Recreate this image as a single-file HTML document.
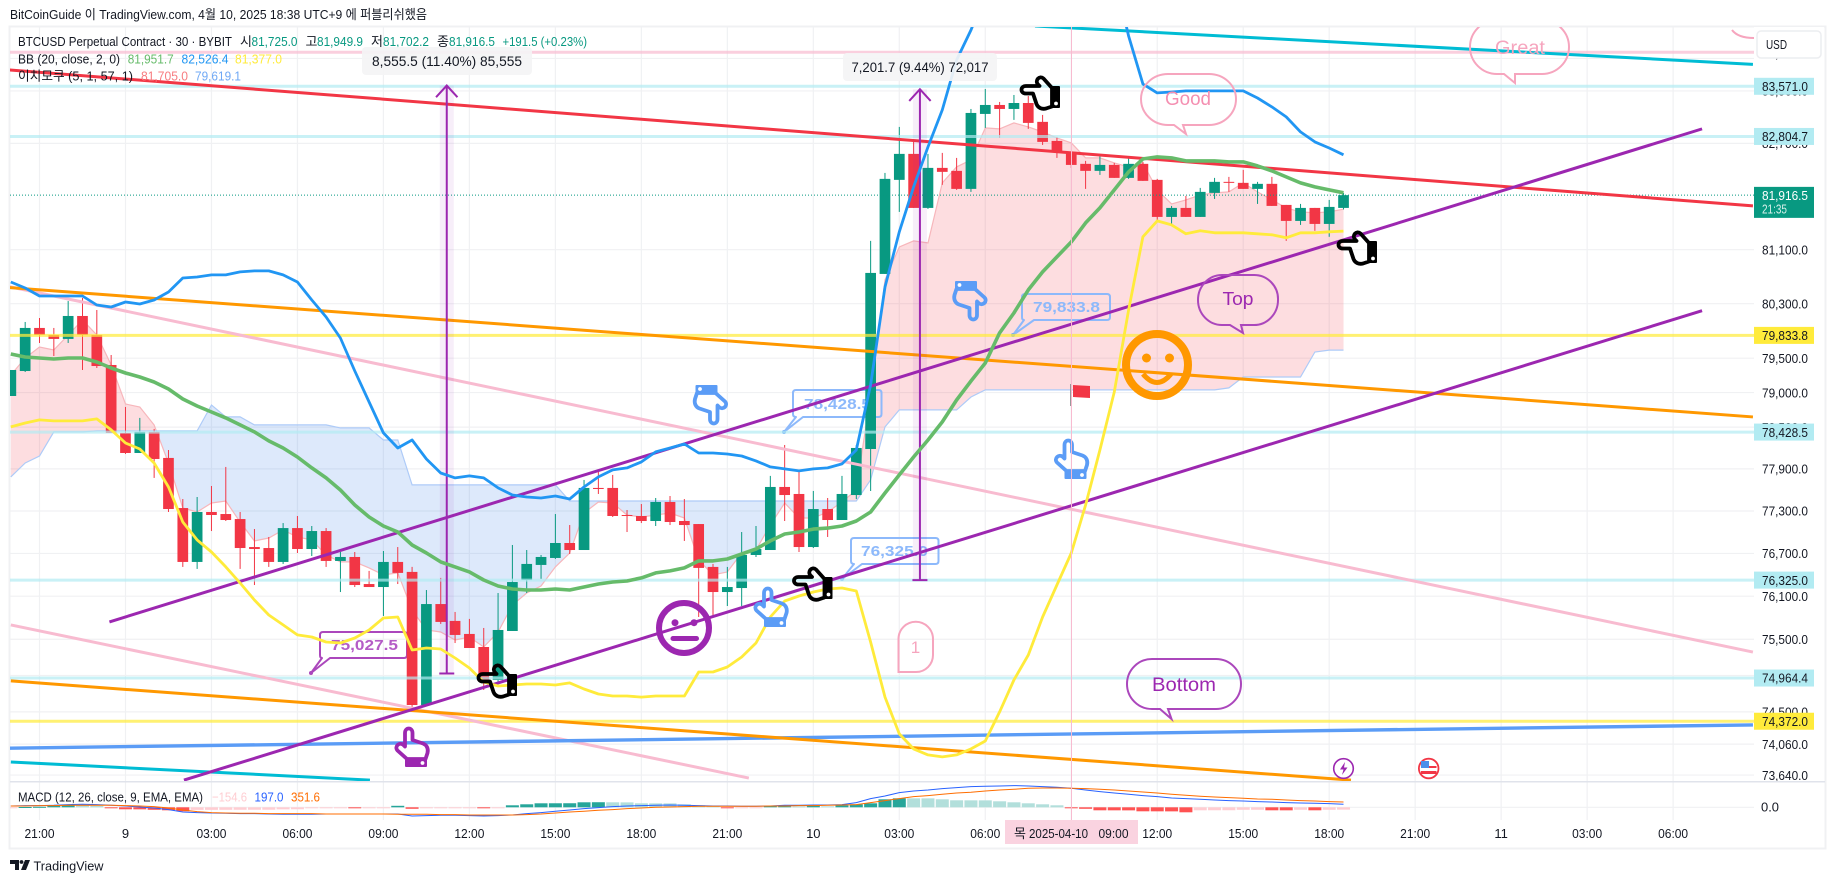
<!DOCTYPE html>
<html lang="ko">
<head>
<meta charset="utf-8">
<title>BTCUSD Perpetual Contract chart</title>
<style>
html,body{margin:0;padding:0;background:#fff;width:1835px;height:883px;overflow:hidden}
svg{position:absolute;left:0;top:0;display:block}
text{font-family:"Liberation Sans","Noto Sans CJK KR",sans-serif;font-size:13px;fill:#131722}
.val{font-size:13px}
</style>
</head>
<body>
<svg id="chart" width="1835" height="883" viewBox="0 0 1835 883" xmlns="http://www.w3.org/2000/svg">
<defs>
  <clipPath id="plotClip"><rect x="10" y="27" width="1744" height="754"/></clipPath>
  <clipPath id="macdClip"><rect x="10" y="783" width="1744" height="37"/></clipPath>
  <g id="hand">
    <path d="M13 31 L3.500 22.500 C0 18.500 5.500 13.500 9.500 17 L11 18.500 L11 5 C11 -1 18.500 -1 18.500 5 L18.500 12 L29 15.500 C33 17 34.500 21 33.500 25 L31.500 31 Z" fill="none" stroke="currentColor" stroke-width="3.800" stroke-linejoin="round"/>
    <rect x="11" y="30.500" width="22" height="8.500" rx="1" fill="currentColor"/>
    <circle cx="28.500" cy="35" r="1.900" fill="#fff"/>
  </g>
</defs>

<text x="10" y="19" textLength="417" lengthAdjust="spacingAndGlyphs">BitCoinGuide 이 TradingView.com, 4월 10, 2025 18:38 UTC+9 에 퍼블리쉬했음</text>
<rect x="9.500" y="26.500" width="1816" height="822" fill="#fff" stroke="#F0F1F3" stroke-width="2"/>

<g id="gridLayer"></g>
<g clip-path="url(#plotClip)">
  <g id="cloudLayer"></g>

  <g fill="none" stroke-width="2" stroke-linejoin="round">
    <path stroke="#AB47BC" d="M323 632 H404 Q407 632 407 635 V655 Q407 658 404 658 H330 L311 673 L322 658 Q320 658 320 655 V635 Q320 632 323 632 Z"/>
    <circle cx="311" cy="673" r="2" fill="#AB47BC"/>
    <text x="331" y="650" textLength="67" lengthAdjust="spacingAndGlyphs" style="font-size:15px;font-weight:bold;fill:#B45CC6;stroke:none">75,027.5</text>
    <path stroke="#8DB9FB" d="M796 390 H878.500 Q881.500 390 881.500 393 V414 Q881.500 417 878.500 417 H803 L784 432 L796 417 Q793 417 793 414 V393 Q793 390 796 390 Z"/>
    <circle cx="784" cy="432" r="2" fill="#6EA6FB"/>
    <text x="804" y="409" textLength="67" lengthAdjust="spacingAndGlyphs" style="font-size:15px;font-weight:bold;fill:#8DB9FB;stroke:none">78,428.5</text>
    <path stroke="#8DB9FB" d="M1025 294 H1107 Q1110 294 1110 297 V317 Q1110 320 1107 320 H1034 L1013 335 L1024 320 Q1022 320 1022 317 V297 Q1022 294 1025 294 Z"/>
    <circle cx="1013" cy="335" r="2" fill="#6EA6FB"/>
    <text x="1033" y="312" textLength="67" lengthAdjust="spacingAndGlyphs" style="font-size:15px;font-weight:bold;fill:#8DB9FB;stroke:none">79,833.8</text>
    <path stroke="#8DB9FB" d="M854 538 H935.500 Q938.500 538 938.500 541 V561 Q938.500 564 935.500 564 H862 L842 579 L854 564 Q851 564 851 561 V541 Q851 538 854 538 Z"/>
    <circle cx="842" cy="579" r="2" fill="#6EA6FB"/>
    <text x="861" y="556" textLength="67" lengthAdjust="spacingAndGlyphs" style="font-size:15px;font-weight:bold;fill:#8DB9FB;stroke:none">76,325.0</text>
  </g>

  <g id="candleLayer"></g>
  <g id="levelLayer"></g>
  <g id="trendLayer"></g>
  <g id="measureLayer"></g>
  <g id="bbLayer"></g>

  <g fill="none" stroke-width="2">
    <path stroke="#F6A5BE" d="M1497 20 H1542 A27 27 0 0 1 1569 47 A27 27 0 0 1 1542 74 H1515 L1515 83 L1504 74 H1497 A27 27 0 0 1 1470 47 A27 27 0 0 1 1497 20 Z"/>
    <text x="1520" y="54" text-anchor="middle" textLength="50" lengthAdjust="spacingAndGlyphs" style="font-size:19px;fill:#F6A5BE;stroke:none">Great</text>
    <path stroke="#F6A5BE" d="M1732 30 Q1738 38 1754 38"/>
    <path stroke="#F6A5BE" d="M1168 74 H1209 A27 25 0 0 1 1236 99 A27 26 0 0 1 1209 125 H1183 L1186 134 L1174 125 H1168 A27 26 0 0 1 1141 99 A27 25 0 0 1 1168 74 Z"/>
    <text x="1188" y="105" text-anchor="middle" textLength="46" lengthAdjust="spacingAndGlyphs" style="font-size:19px;fill:#F48FB1;stroke:none">Good</text>
    <path stroke="#AB47BC" d="M1222 275 H1254 A24 24 0 0 1 1278 300 A24 25 0 0 1 1254 325 H1241 L1243 333 L1230 325 H1222 A24 25 0 0 1 1198 300 A24 25 0 0 1 1222 275 Z"/>
    <text x="1238" y="305" text-anchor="middle" textLength="31" lengthAdjust="spacingAndGlyphs" style="font-size:18px;fill:#9C27B0;stroke:none">Top</text>
    <path stroke="#AB47BC" d="M1152 659 H1216 A25 25 0 0 1 1241 684 A25 25 0 0 1 1216 709 H1168 L1171.500 719 L1160 709 H1152 A25 25 0 0 1 1127 684 A25 25 0 0 1 1152 659 Z"/>
    <text x="1184" y="691" text-anchor="middle" textLength="64" lengthAdjust="spacingAndGlyphs" style="font-size:19px;fill:#9C27B0;stroke:none">Bottom</text>
    <path stroke="#F6A5BE" d="M898.500 672 V639 A17 17 0 0 1 933 639 V655 A17 17 0 0 1 916 672 Z"/>
    <text x="915.500" y="653" text-anchor="middle" style="font-size:17px;fill:#F6A5BE;stroke:none">1</text>
  </g>

  <g>
    <rect x="1070" y="384" width="2" height="22" fill="#999"/>
    <path d="M1073 385 L1090 386 V398 L1073 397 Z" fill="#F23645"/>
  </g>

  <g fill="none" stroke="#FF9800">
    <circle cx="1157" cy="365" r="31" stroke-width="8"/>
    <circle cx="1146.500" cy="358" r="4.500" fill="#FF9800" stroke="none"/>
    <circle cx="1169.500" cy="358" r="4.500" fill="#FF9800" stroke="none"/>
    <path d="M1143 374 Q1157 391 1171 374" stroke-width="5"/>
  </g>
  <g fill="none" stroke="#9C27B0">
    <circle cx="684" cy="628" r="25" stroke-width="6"/>
    <circle cx="675" cy="622.700" r="3.500" fill="#9C27B0" stroke="none"/>
    <circle cx="694" cy="622.700" r="3.500" fill="#9C27B0" stroke="none"/>
    <path d="M673 638.500 H696.500" stroke-width="5" stroke-linecap="round"/>
  </g>

  <g>
    <use href="#hand" color="#000" transform="translate(1041 92) rotate(-90) scale(-1 1) translate(-17 -20)"/>
    <use href="#hand" color="#000" transform="translate(1358 247) rotate(-90) scale(-1 1) translate(-17 -20)"/>
    <use href="#hand" color="#000" transform="translate(813.500 583) rotate(-90) scale(-1 1) translate(-17 -20)"/>
    <use href="#hand" color="#000" transform="translate(498 680) rotate(-90) scale(-1 1) translate(-17 -20)"/>
    <use href="#hand" color="#5B9CF6" transform="translate(1070.500 460) translate(-17 -20)"/>
    <use href="#hand" color="#5B9CF6" transform="translate(770 608) translate(-17 -20)"/>
    <use href="#hand" color="#9C27B0" transform="translate(411 748) translate(-17 -20)"/>
    <use href="#hand" color="#5B9CF6" transform="translate(971 300) rotate(180) translate(-17 -20)"/>
    <use href="#hand" color="#5B9CF6" transform="translate(711.500 404) rotate(180) translate(-17 -20)"/>
  </g>

  <g>
    <circle cx="1343.500" cy="768.500" r="9.800" fill="#fff" stroke="#9C27B0" stroke-width="1.600"/>
    <path d="M1345 762 L1340 769.500 H1343.500 L1342 775 L1347.500 767.500 H1344 Z" fill="#9C27B0"/>
  </g>
  <g>
    <circle cx="1428.700" cy="768.500" r="9.800" fill="#fff" stroke="#F23645" stroke-width="1.800"/>
    <rect x="1421" y="766" width="15.500" height="2" fill="#F23645"/>
    <rect x="1421" y="771" width="15.500" height="3" fill="#F23645"/>
    <rect x="1421" y="761" width="8" height="7" fill="#4C8FEA"/>
  </g>
</g>

<g id="axisLayer"></g>

<g>
  <text x="18" y="46" textLength="214" lengthAdjust="spacingAndGlyphs">BTCUSD Perpetual Contract · 30 · BYBIT</text>
  <text x="240" y="46">시</text>
  <text x="251.500" y="46" textLength="46" lengthAdjust="spacingAndGlyphs" style="fill:#089981">81,725.0</text>
  <text x="305.500" y="46">고</text>
  <text x="317" y="46" textLength="46" lengthAdjust="spacingAndGlyphs" style="fill:#089981">81,949.9</text>
  <text x="371" y="46">저</text>
  <text x="383" y="46" textLength="46" lengthAdjust="spacingAndGlyphs" style="fill:#089981">81,702.2</text>
  <text x="437" y="46">종</text>
  <text x="449" y="46" textLength="46" lengthAdjust="spacingAndGlyphs" style="fill:#089981">81,916.5</text>
  <text x="502.500" y="46" textLength="84.500" lengthAdjust="spacingAndGlyphs" style="fill:#089981">+191.5 (+0.23%)</text>
  <text x="18" y="63.500" textLength="102" lengthAdjust="spacingAndGlyphs">BB (20, close, 2, 0)</text>
  <text x="127.700" y="63.500" textLength="46" lengthAdjust="spacingAndGlyphs" style="fill:#66BB6A">81,951.7</text>
  <text x="181.500" y="63.500" textLength="47" lengthAdjust="spacingAndGlyphs" style="fill:#2196F3">82,526.4</text>
  <text x="235" y="63.500" textLength="47" lengthAdjust="spacingAndGlyphs" style="fill:#FFEB3B">81,377.0</text>
  <text x="18" y="80.500" textLength="115" lengthAdjust="spacingAndGlyphs">이치모쿠 (5, 1, 57, 1)</text>
  <text x="141" y="80.500" textLength="47" lengthAdjust="spacingAndGlyphs" style="fill:#F77C80">81,705.0</text>
  <text x="195" y="80.500" textLength="46" lengthAdjust="spacingAndGlyphs" style="fill:#6FA8F5">79,619.1</text>
</g>

<g>
  <rect x="362" y="47" width="170" height="28" rx="4" fill="#F4F4F5" fill-opacity="0.92"/>
  <text x="447" y="66" text-anchor="middle" textLength="150" lengthAdjust="spacingAndGlyphs" style="font-size:14px">8,555.5 (11.40%) 85,555</text>
  <rect x="843" y="53" width="154" height="28" rx="4" fill="#F4F4F5" fill-opacity="0.92"/>
  <text x="920" y="72" text-anchor="middle" textLength="137" lengthAdjust="spacingAndGlyphs" style="font-size:14px">7,201.7 (9.44%) 72,017</text>
</g>

<rect x="1757" y="31" width="64" height="27" rx="4" fill="#fff" stroke="#ECEDF0" stroke-width="1.500"/>
<text x="1766" y="49" textLength="21" lengthAdjust="spacingAndGlyphs">USD</text>

<rect x="10" y="781" width="1815" height="1.500" fill="#E0E3EB"/>
<g id="macdLayer" clip-path="url(#macdClip)"></g>
<g>
  <text x="18" y="801.500" textLength="185" lengthAdjust="spacingAndGlyphs">MACD (12, 26, close, 9, EMA, EMA)</text>
  <text x="212" y="801.500" textLength="35" lengthAdjust="spacingAndGlyphs" style="fill:#FFCDD2">−154.6</text>
  <text x="254.500" y="801.500" textLength="29" lengthAdjust="spacingAndGlyphs" style="fill:#2962FF">197.0</text>
  <text x="291" y="801.500" textLength="29" lengthAdjust="spacingAndGlyphs" style="fill:#FF6D00">351.6</text>
</g>
<text x="1761" y="811.700" textLength="18" lengthAdjust="spacingAndGlyphs">0.0</text>

<g id="timeLayer"></g>
<line x1="1071.500" x2="1071.500" y1="27" y2="820" stroke="#F8BBD0" stroke-width="1"/>
<rect x="1005" y="820" width="133" height="24" fill="#FAD1DE" fill-opacity="0.95"/>
<text x="1014" y="838">목</text>
<text x="1029" y="838" textLength="59" lengthAdjust="spacingAndGlyphs">2025-04-10</text>
<text x="1098.500" y="838" textLength="30" lengthAdjust="spacingAndGlyphs">09:00</text>

<g>
  <path d="M10 860 H19 V870 H15 V864 H10 Z M21 870 L25 860 H30 L26 870 Z" fill="#131722"/>
  <circle cx="21.500" cy="862" r="1.900" fill="#131722"/>
  <text x="33.500" y="870.500" textLength="70" lengthAdjust="spacingAndGlyphs">TradingView</text>
</g>
</svg>

<script>
// ---------- candle data (bar 0 = 20:00, 30-minute bars) ----------
const opens=[78950,79313,79943,79840,79782,80119,79840,79401,78416,78128,78431,78057,77342,76580,77286,77257,77186,76790,76776,76580,77058,76762,77016,76594,76650,76270,76228,76580,76440,74594,75990,75755,75574,75393,74938,75615,76326,76538,76636,76847,76748,77628,77628,77243,77229,77158,77428,77158,77115,76510,76158,76214,76678,76748,77642,77542,76790,77328,77172,77527,78185,80740,82147,82540,81725,82328,82283,82011,83148,83285,83224,83315,83027,82737,82570,82389,82283,82373,82177,82389,82147,81590,81725,81590,81951,82117,82102,82011,82087,81770,81530,81725,81485,81725];
const highs=[79328,80031,80089,79943,80339,80384,80207,79547,78791,78633,78474,78171,77470,77499,77656,77928,77286,77044,76932,77129,77229,77087,77058,76720,76720,76454,76734,76790,76510,76186,76356,75880,75783,75657,76144,76819,76748,76678,77257,77101,77742,77857,77814,77314,77399,77485,77513,77470,77115,76552,76510,77002,77087,77800,78243,77857,77585,77485,77800,78243,81232,82252,82950,82737,82540,82555,82479,83224,83530,83331,83438,83422,83133,82798,82570,82434,82509,82404,82479,82419,82162,81755,81905,82026,82177,82192,82298,82117,82192,81770,81785,81725,81845,81949.9];
const lows=[78950,79299,79723,79532,79723,79328,79357,78416,78114,78128,77771,77286,76510,76482,77016,77158,76482,76256,76510,76552,76706,76664,76510,76158,76228,76228,75824,76270,74540,74594,75713,75448,75379,74800,74897,75615,76144,76340,76622,76692,76748,77542,77215,77002,77129,77087,77101,76876,75810,75810,75963,75963,76650,76748,77158,76720,76776,76932,77172,77470,77585,80740,81665,81725,81710,82072,81996,81966,82935,82782,83057,82920,82676,82479,82328,82011,82222,82177,82162,82132,81545,81470,81590,81590,81860,81966,82011,81785,81755,81232,81470,81382,81292,81702.2];
const closes=[79328,79943,79840,79782,80119,79840,79386,78416,78128,78431,78042,77328,76580,77286,77243,77172,76776,76762,76580,77058,76762,77016,76594,76650,76256,76228,76580,76426,74594,75990,75741,75560,75379,74938,75629,76298,76552,76650,76847,76748,77628,77613,77229,77229,77158,77428,77144,77101,76496,76158,76228,76678,76762,77642,77527,76790,77328,77172,77542,78200,80755,82162,82540,81725,82328,82268,82011,83163,83285,83224,83315,83011,82722,82570,82373,82283,82373,82177,82389,82132,81590,81725,81590,81966,82117,82102,82011,82087,81755,81530,81725,81485,81740,81916.5];

// ---------- Bollinger Bands ----------
const bbUpper=[80620,80531,80413,80413,80413,80413,80280,80251,80325,80295,80354,80473,80680,80695,80725,80725,80770,80785,80785,80725,80620,80354,80104,79796,79313,78863,78416,78200,78315,78042,77842,77771,77800,77771,77628,77527,77499,77485,77513,77470,77642,77785,77885,77914,78000,78143,78200,78257,78128,78128,78114,78085,78014,77928,77900,77871,77900,77914,77971,78171,79109,80547,81367,82041,82646,83209,83976,84440,85000,85200,85350,85500,85600,85650,85650,85600,85500,85300,84347,83607,83469,83484,83500,83500,83500,83500,83500,83392,83255,83103,82874,82722,82630,82526.4];
const bbBasis=[79562,79518,79503,79489,79503,79503,79445,79357,79284,79226,79153,79051,78906,78805,78719,78633,78532,78431,78301,78200,78071,77914,77771,77599,77385,77215,77087,77002,76819,76706,76580,76510,76440,76326,76242,76200,76186,76186,76200,76186,76228,76270,76298,76312,76356,76426,76454,76496,76594,76594,76622,76692,76762,76876,76974,77002,77044,77058,77087,77158,77286,77556,77814,78071,78315,78575,78892,79168,79430,79870,80163,80503,80770,80993,81217,81500,81725,81996,82268,82464,82494,82479,82434,82434,82434,82419,82419,82358,82283,82192,82102,82041,81996,81951.7];
const bbLower=[78503,78560,78604,78590,78590,78590,78618,78460,78272,78185,77985,77642,77144,76890,76720,76510,76284,76046,75838,75699,75560,75532,75462,75448,75518,75629,75796,75810,75351,75379,75365,75241,75103,74910,74855,74869,74883,74883,74869,74897,74814,74745,74717,74717,74703,74717,74717,74717,75048,75048,75117,75254,75448,75810,76032,76102,76158,76200,76214,76172,75462,74703,74199,73995,73913,73886,73913,73995,74103,74499,74938,75282,75810,76256,76706,77385,78171,79009,80207,81292,81530,81470,81337,81382,81352,81352,81352,81337,81322,81277,81352,81352,81367,81377];

// ---------- Ichimoku cloud ----------
const leadA=[79255,79503,79664,79620,79840,80060,79840,79401,78834,78791,78532,77985,77342,77286,77413,77442,77144,76876,76918,77030,76932,76890,76678,76580,76580,76496,76398,76426,75907,75629,75601,75490,75532,75393,75601,75976,76144,76242,76510,76706,77272,77428,77413,77243,77215,77243,77272,77201,76608,76398,76440,76706,76748,77101,77413,77201,77201,77286,77428,77599,78965,80652,81142,81232,81202,82102,82343,82449,82935,82920,83011,82950,82874,82782,82706,82479,82479,82404,82343,82404,81996,81785,81845,81920,81951,81966,82102,81966,81845,81725,81665,81650,81665,81705];
const leadB=[77785,77985,78085,78431,78431,78431,78445,78445,78445,78445,78445,78445,78445,78445,78820,78647,78647,78532,78532,78532,78532,78532,78532,78489,78489,78489,78315,78315,77671,77671,77671,77671,77671,77671,77671,77671,77671,77671,77671,77442,77442,77442,77442,77442,77442,77442,77442,77442,77442,77442,77442,77442,77442,77442,77442,77442,77442,77442,77442,77442,77742,78503,78748,78748,78748,78748,78748,78936,79038,79038,79038,79038,79038,79038,79038,79038,79038,79038,79038,79038,79038,79038,79038,79038,79038,79067,79226,79226,79226,79226,79226,79591,79619,79619.1];

// ---------- MACD ----------
const macdLine=[88,110,110,132,176,198,176,132,88,22,-44,-154,-308,-352,-374,-396,-418,-418,-440,-462,-462,-462,-440,-440,-440,-440,-440,-440,-572,-550,-528,-528,-550,-572,-550,-506,-418,-352,-264,-176,-88,-22,44,88,110,132,154,132,110,88,88,66,66,88,132,132,154,154,176,308,572,748,968,1078,1144,1232,1298,1364,1386,1408,1430,1408,1364,1320,1254,1144,1034,946,858,770,704,616,572,528,484,440,418,374,352,308,286,264,242,197];
const macdSignal=[88,88,110,110,132,132,132,132,110,88,44,-44,-176,-286,-352,-374,-396,-396,-418,-418,-418,-418,-440,-440,-440,-440,-440,-462,-462,-462,-484,-484,-506,-506,-506,-506,-484,-440,-374,-308,-264,-198,-154,-88,-44,0,22,44,66,66,66,66,66,88,88,110,110,132,154,176,308,440,572,704,770,858,946,990,1078,1144,1188,1254,1276,1276,1254,1232,1188,1144,1078,1012,946,858,792,726,682,638,594,550,528,484,440,418,374,351.6];
const macdHist=[-46,20,33,132,135,130,99,-46,-132,-135,-165,-198,-264,-170,-168,-166,-164,-162,-160,-135,-130,-46,-44,-42,-60,-33,-30,99,-99,-33,-32,-31,-30,-46,-33,132,198,264,266,268,330,335,330,325,264,262,260,198,132,99,-66,-46,-44,66,68,60,132,66,132,198,264,528,594,592,590,528,462,460,458,396,330,264,198,132,-33,-99,-198,-200,-202,-264,-266,-268,-330,-198,-196,-194,-165,-163,-198,-200,-165,-198,-165,-154.6];

// ---------- horizontal levels (prices) ----------
const pinkLevel=[84095];
const cyanLevels=[83571,82804.7,78428.5,76325,74964.4];
const yellowLevels=[79833.8,74372];

// ---------- trend lines: [bar, price, bar, price] ----------
const redTrend=[-0.13,83822,121.57,81755];
const cyanTrendUpper=[71.47,84502,121.57,83909];
const cyanTrendLower=[0,73818,25.06,73572];
const purpleTrendUpper=[6.88,75741,118.02,82920];
const purpleTrendLower=[12.08,73572,118.02,80197];
const orangeTrendUpper=[-0.13,80538,121.57,78647];
const orangeTrendLower=[0,74925,93.52,73572];
const pinkTrendUpper=[-0.13,80552,121.57,75323];
const pinkTrendLower=[0,75699,51.5,73600];
const blueTrend=[-0.13,74005,121.57,74322];

// ---------- price ranges: [bar, fromPrice, toPrice] ----------
const rangeA=[30.42,75027.5,83583];
const rangeB=[63.44,76325,83526];

// ---------- axis labels ----------
const priceTicks=[84000,83500,82700,81100,80300,79500,79000,78500,77900,77300,76700,76100,75500,75000,74500,74060,73640];
const priceTickLabels=["84,000.0","83,500.0","82,700.0","81,100.0","80,300.0","79,500.0","79,000.0","78,500.0","77,900.0","77,300.0","76,700.0","76,100.0","75,500.0","75,000.0","74,500.0","74,060.0","73,640.0"];
const timeTickBars=[2,8,14,20,26,32,38,44,50,56,62,68,74,80,86,92,98,104,110,116];
const timeTickLabels=["21:00","9","03:00","06:00","09:00","12:00","15:00","18:00","21:00","10","03:00","06:00","09:00","12:00","15:00","18:00","21:00","11","03:00","06:00"];
const taggedPrices=[83571,82804.7,78428.5,76325,74964.4];
const taggedYellow=[79833.8,74372];
const lastPrice=81916.5;
const lastPriceCountdown="21:35";

// ---------- axis functions ----------
const NS='http://www.w3.org/2000/svg';
const xBar=i=>39.5+14.33*(i-2);
const yPrice=p=>86.3-Math.log(p/83571)*5444.6;
const macdZero=807.3;
const yMacd=v=>macdZero-v/66;
const fmt=p=>p.toLocaleString('en-US',{minimumFractionDigits:1,maximumFractionDigits:1});

function el(tag,attrs,parent){
  const e=document.createElementNS(NS,tag);
  for(const k in attrs)e.setAttribute(k,attrs[k]);
  parent.appendChild(e);
  return e;
}
const layer=id=>document.getElementById(id);

// ---------- grid ----------
const plotL=10,plotR=1754,plotT=27,plotB=781;
priceTicks.forEach(p=>{
  const g=el('line',{x1:plotL,x2:plotR,y1:yPrice(p),y2:yPrice(p),stroke:'#F0F1F3','stroke-width':1.2},layer('gridLayer'));
  
  
});
timeTickBars.forEach(b=>{
  const g=el('line',{x1:xBar(b),x2:xBar(b),y1:plotT,y2:820,stroke:'#F0F1F3','stroke-width':1.2},layer('gridLayer'));
  
  
});
const zeroGrid=el('line',{x1:plotL,x2:plotR,y1:macdZero,y2:macdZero,stroke:'#F0F1F3','stroke-width':1.2},layer('gridLayer'));



// ---------- cloud ----------
let redD='',blueD='';
for(let i=0;i<leadA.length-1;i++){
  const x0=xBar(i),x1=xBar(i+1),a0=yPrice(leadA[i]),a1=yPrice(leadA[i+1]),b0=yPrice(leadB[i]),b1=yPrice(leadB[i+1]);
  const d0=leadA[i]-leadB[i],d1=leadA[i+1]-leadB[i+1];
  const quad=(xa,aa,ba,xb,ab,bb)=>`M${xa} ${aa}L${xb} ${ab}L${xb} ${bb}L${xa} ${ba}Z`;
  if(d0>=0&&d1>=0)redD+=quad(x0,a0,b0,x1,a1,b1);
  else if(d0<=0&&d1<=0)blueD+=quad(x0,a0,b0,x1,a1,b1);
  else{
    const t=(a0-b0)/((a0-b0)-(a1-b1));
    const xc=x0+(x1-x0)*t,yc=a0+(a1-a0)*t;
    const left=quad(x0,a0,b0,xc,yc,yc),right=quad(xc,yc,yc,x1,a1,b1);
    if(d0>0){redD+=left;blueD+=right;}else{blueD+=left;redD+=right;}
  }
}
const cloudRed=el('path',{d:redD,fill:'#F23645','fill-opacity':0.17},layer('cloudLayer'));


const cloudBlue=el('path',{d:blueD,fill:'#2979E8','fill-opacity':0.16},layer('cloudLayer'));


const linePath=(arr,yf)=>arr.map((v,i)=>(i?'L':'M')+xBar(i).toFixed(1)+' '+yf(v).toFixed(1)).join('');
const leadALine=el('path',{d:linePath(leadA,yPrice),fill:'none',stroke:'#F7B6BB','stroke-width':1.2},layer('cloudLayer'));


const leadBLine=el('path',{d:linePath(leadB,yPrice),fill:'none',stroke:'#AECBF8','stroke-width':1.2},layer('cloudLayer'));



// ---------- candles ----------
const UP='#089981',DOWN='#F23645';
closes.forEach((c,i)=>{
  const o=opens[i],col=c>=o?UP:DOWN,x=xBar(i);
  const wick=el('line',{x1:x,x2:x,y1:yPrice(highs[i]),y2:yPrice(lows[i]),stroke:col,'stroke-width':1},layer('candleLayer'));
  
  
  const top=yPrice(Math.max(o,c)),h=Math.max(1,Math.abs(yPrice(o)-yPrice(c)));
  const body=el('rect',{x:x-5.35,y:top,width:10.7,height:h,fill:col},layer('candleLayer'));
  
  
});

// ---------- horizontal levels ----------
function addLevel(p,col,op,name){
  const l=el('line',{x1:plotL,x2:plotR,y1:yPrice(p),y2:yPrice(p),stroke:col,'stroke-opacity':op,'stroke-width':3},layer('levelLayer'));
  
  
}
pinkLevel.forEach(p=>addLevel(p,'#F8BBD0',0.7,'level-pink'));
cyanLevels.forEach(p=>addLevel(p,'#B2EBF2',0.7,'level-cyan'));
yellowLevels.forEach(p=>addLevel(p,'#FFEB3B',0.72,'level-yellow'));
const lastLine=el('line',{x1:plotL,x2:plotR,y1:yPrice(lastPrice),y2:yPrice(lastPrice),stroke:'#089981','stroke-width':1,'stroke-dasharray':'1 2'},layer('levelLayer'));



// ---------- trend lines ----------
function addTrend(t,col,w,name){
  const l=el('line',{x1:xBar(t[0]),y1:yPrice(t[1]),x2:xBar(t[2]),y2:yPrice(t[3]),stroke:col,'stroke-width':w},layer('trendLayer'));
  
  
}
addTrend(pinkTrendUpper,'#F8BBD0',3,'trend-pink-upper');
addTrend(pinkTrendLower,'#F8BBD0',3,'trend-pink-lower');
addTrend(cyanTrendUpper,'#00BCD4',3,'trend-cyan-upper');
addTrend(cyanTrendLower,'#00BCD4',3,'trend-cyan-lower');
addTrend(blueTrend,'#5B9CF6',3.4,'trend-blue');
addTrend(orangeTrendUpper,'#FF9800',3,'trend-orange-upper');
addTrend(orangeTrendLower,'#FF9800',3,'trend-orange-lower');
addTrend(redTrend,'#F23645',3,'trend-red');
addTrend(purpleTrendUpper,'#9C27B0',3,'trend-purple-upper');
addTrend(purpleTrendLower,'#9C27B0',3,'trend-purple-lower');

// ---------- price ranges ----------
function addRange(r,name){
  const x=xBar(r[0]),yTop=yPrice(r[2]),yBot=yPrice(r[1]);
  const band=el('rect',{x:x-7,y:yTop,width:14,height:yBot-yTop,fill:'#9C27B0','fill-opacity':0.08},layer('measureLayer'));
  
  
  const arrow=el('path',{d:`M${x} ${yBot}V${yTop}M${x-10.7} ${yTop+11.7}L${x} ${yTop}L${x+10.7} ${yTop+11.7}M${x-7.5} ${yBot}H${x+7.5}`,fill:'none',stroke:'#9C27B0','stroke-width':2},layer('measureLayer'));
  
  
}
addRange(rangeA,'range-a');
addRange(rangeB,'range-b');

// ---------- Bollinger lines ----------
const upperPath=el('path',{d:linePath(bbUpper,yPrice),fill:'none',stroke:'#2196F3','stroke-width':2.8,'stroke-linejoin':'round'},layer('bbLayer'));


const lowerPath=el('path',{d:linePath(bbLower,yPrice),fill:'none',stroke:'#FFEB3B','stroke-width':2.8,'stroke-linejoin':'round'},layer('bbLayer'));


const basisPath=el('path',{d:linePath(bbBasis,yPrice),fill:'none',stroke:'#66BB6A','stroke-width':3.6,'stroke-linejoin':'round'},layer('bbLayer'));



// ---------- price axis ----------
const axisMask=el('rect',{x:1754,y:27,width:70,height:754,fill:'#fff'},layer('axisLayer'));


function axisText(y,str,col,size){
  const t=el('text',{x:1762,y:y+4.7,textLength:46,lengthAdjust:'spacingAndGlyphs',style:'fill:'+col},layer('axisLayer'));
  t.textContent=str;
  return t;
}
priceTicks.forEach((p,i)=>{
  const t=axisText(yPrice(p)+(p===84000?-5:0),priceTickLabels[i],'#131722');
  
  
});
function tag(p,bg,fg,name){
  const y=yPrice(p);
  const b=el('rect',{x:1754,y:y-8.5,width:60,height:17,fill:bg},layer('axisLayer'));
  
  
  const t=axisText(y,fmt(p),fg);
  
  
}
taggedPrices.forEach(p=>tag(p,'#B2EBF2','#131722','price-tag-cyan'));
taggedYellow.forEach(p=>tag(p,'#FFEB3B','#131722','price-tag-yellow'));
const lastBox=el('rect',{x:1754,y:yPrice(lastPrice)-8.3,width:60,height:31,fill:'#089981'},layer('axisLayer'));


const lastLabel=axisText(yPrice(lastPrice),fmt(lastPrice),'#fff');


const countdown=el('text',{x:1762,y:yPrice(lastPrice)+18.5,textLength:25,lengthAdjust:'spacingAndGlyphs',style:'fill:#D7F0EA'},layer('axisLayer'));
countdown.textContent=lastPriceCountdown;



// ---------- MACD ----------
macdHist.forEach((v,i)=>{
  const prev=i?macdHist[i-1]:v;
  let col;
  if(v>=0)col=v>prev?'#26A69A':'#B2DFDB';
  else col=v<prev?'#FF5252':'#FFCDD2';
  const y0=macdZero,y1=yMacd(v);
  const r=el('rect',{x:xBar(i)-6.5,y:Math.min(y0,y1),width:13,height:Math.max(1,Math.abs(y1-y0)),fill:col},layer('macdLayer'));
  
  
});
const macdPath=el('path',{d:linePath(macdLine,yMacd),fill:'none',stroke:'#2962FF','stroke-width':1},layer('macdLayer'));


const signalPath=el('path',{d:linePath(macdSignal,yMacd),fill:'none',stroke:'#FF6D00','stroke-width':1},layer('macdLayer'));



// ---------- time axis ----------
timeTickBars.forEach((b,i)=>{
  const t=el('text',{x:xBar(b),y:838,'text-anchor':'middle'},layer('timeLayer'));
  t.textContent=timeTickLabels[i];
  
  
  if(timeTickLabels[i].length>2){t.setAttribute('textLength',30);t.setAttribute('lengthAdjust','spacingAndGlyphs');}
});
</script>
</body>
</html>
